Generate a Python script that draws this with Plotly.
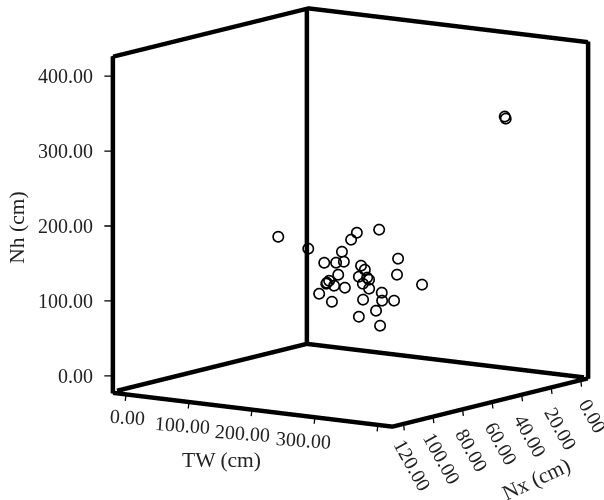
import plotly.graph_objects as go

TW = [35.9,60.1,184.2,172.7,151.6,160.5,85.5,127.8,163.6,202.8,167.4,196.9,107.7,224.5,187.4,153.6,180.1,193.7,156.8,116.7,136.7,88.7,124.6,165.2,240.8,100.9,223.8,177.4,170.6,144.6,196.4,191.2,187.4,174.2,395.6,397.2]
Nx = [40,30,50,30,40,50,30,40,50,30,40,50,30,40,50,30,40,50,30,40,50,30,40,50,30,40,50,30,40,50,30,40,50,30,40,40]
Nh = [149,130.7,174.4,167.6,156.9,146.6,114.5,123.8,133.6,131.9,123.8,126.3,100.8,117.6,116,101.6,106.4,107.3,87.2,98.5,102.8,86.9,92.7,99.1,101.1,79.6,98.4,73.3,78.8,78.2,75.2,66.1,62.6,39.5,346.1,343.5]

tw_ticks = [0,100,200,300,400]
tw_labels = ["0.00","100.00","200.00","300.00",""]
nx_ticks = [0,20,40,60,80,100,120]
nx_labels = ["0.00","20.00","40.00","60.00","80.00","100.00","120.00"]
nh_ticks = [0,100,200,300,400]
nh_labels = ["0.00","100.00","200.00","300.00","400.00"]

TW_RANGE = [-21, 423]
NX_RANGE = [127.5, -5]
NH_RANGE = [-22.7, 426]
INSET = 2

tick_font = dict(family="Liberation Serif", size=20, color="#222222")
title_font = dict(family="Liberation Serif", size=21.5, color="#222222")

def axis(vals, rng):
    return dict(title=dict(text=""), tickvals=vals, range=rng, showticklabels=False,
                showgrid=False, zeroline=False, showbackground=False,
                showline=True, linecolor="black", linewidth=9, mirror=True, ticks="",
                showspikes=False)

def tick(x, y, z, ax, ay):
    return dict(x=x, y=y, z=z, text="", showarrow=True, arrowhead=0, arrowwidth=1.3,
                arrowcolor="black", ax=ax, ay=ay, standoff=0)

notes = []
for v, t in zip(nh_ticks, nh_labels):
    notes.append(tick(TW_RANGE[0], NX_RANGE[0], v, -10, 0))
    notes.append(dict(x=TW_RANGE[0], y=NX_RANGE[0], z=v, text=t, showarrow=False, font=tick_font,
                      xanchor="right", xshift=-18))
for v, t, dx in zip(tw_ticks, tw_labels, [1, -7, -10, -11, 0]):
    notes.append(tick(v, NX_RANGE[0], NH_RANGE[0], -1, 8))
    if t:
        notes.append(dict(x=v, y=NX_RANGE[0], z=NH_RANGE[0], text=t, showarrow=False, font=tick_font,
                          textangle=4, xshift=dx, yshift=-23))
for v, t in zip(nx_ticks, nx_labels):
    notes.append(tick(TW_RANGE[1], v, NH_RANGE[0], 1, 8))
    sx, sy = (12, -36) if len(t) == 4 else (9, -41)
    notes.append(dict(x=TW_RANGE[1], y=v, z=NH_RANGE[0], text=t, showarrow=False, font=tick_font,
                      textangle=61, xshift=sx, yshift=sy))
notes.append(dict(x=TW_RANGE[0], y=NX_RANGE[0], z=NH_RANGE[0], text="Nh (cm)", showarrow=False,
                  font=title_font, textangle=-90, xshift=-96, yshift=165))
notes.append(dict(x=TW_RANGE[1], y=NX_RANGE[0], z=NH_RANGE[0], text="TW (cm)", showarrow=False,
                  font=title_font, xshift=-171, yshift=-33))
notes.append(dict(x=TW_RANGE[1], y=NX_RANGE[0], z=NH_RANGE[0], text="Nx (cm)", showarrow=False,
                  font=title_font, textangle=-25, xshift=144, yshift=-52))

points = go.Scatter3d(x=TW, y=Nx, z=Nh, mode="markers",
    marker=dict(symbol="circle-open", size=6.5, color="black", line=dict(color="black", width=1)))
x0, x1 = TW_RANGE[0] + INSET, TW_RANGE[1] - INSET
y0, y1 = NX_RANGE[0] - INSET, NX_RANGE[1] + INSET
z0, z1 = NH_RANGE[0] + INSET, NH_RANGE[1] - INSET
back_edges = go.Scatter3d(
    x=[x0, x0, x0, None, x0, x1],
    y=[y0, y1, y1, None, y1, y1],
    z=[z0, z0, z1, None, z0, z0],
    mode="lines", line=dict(color="black", width=9), hoverinfo="skip")

fig = go.Figure([points, back_edges])
fig.update_layout(width=604, height=500, margin=dict(l=0,r=0,t=0,b=0), paper_bgcolor="white",
    showlegend=False,
    scene=dict(
        xaxis=axis(tw_ticks, TW_RANGE),
        yaxis=axis(nx_ticks, NX_RANGE),
        zaxis=axis(nh_ticks, NH_RANGE),
        aspectmode="manual", aspectratio=dict(x=1.365,y=1.365,z=1.365),
        annotations=notes,
        camera=dict(projection=dict(type="orthographic"),
                    eye=dict(x=0.821,y=-1.511,z=0.168), center=dict(x=-0.159,y=-0.111,z=-0.132), up=dict(x=0,y=0,z=1)),
    ))
fig.write_html("out.html", config={"displayModeBar": False}, post_script="document.body.style.margin='0';")
